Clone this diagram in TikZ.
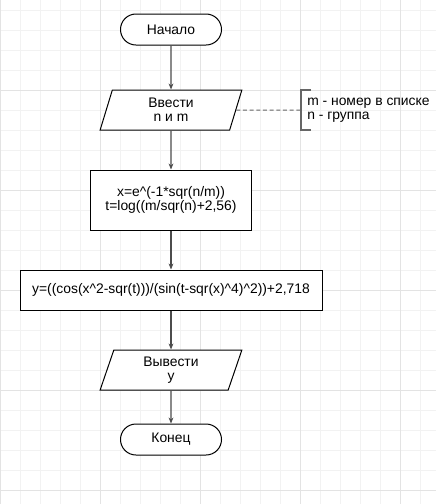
\documentclass[tikz,border=0pt]{standalone}
\usepackage{fontspec}
\setmainfont{Liberation Sans}
\usetikzlibrary{shapes.geometric,arrows.meta}

\begin{document}
\begin{tikzpicture}[x=0.75pt,y=-0.75pt,
  font=\fontsize{10.4}{10.5}\selectfont,
  >={Stealth[length=4.5pt,width=3.6pt]},
  term/.style={draw, fill=white, line width=0.75pt, rounded corners=11.6pt, minimum width=75.75pt, minimum height=23.25pt},
  io/.style={trapezium, trapezium left angle=62.6, trapezium right angle=117.4, trapezium stretches body, draw, fill=white, line width=0.75pt, minimum width=106.3pt, minimum height=30pt, inner sep=0pt, align=center},
  proc/.style={draw, fill=white, line width=0.75pt, align=center},
  flow/.style={->, black!70, line width=0.9pt},
  minor/.style={black!5, line width=0.75pt},
  major/.style={black!11, line width=0.75pt}]
\useasboundingbox (0,0) rectangle (436,504);
\foreach \x in {0,20,...,420} \draw[minor] (\x,0) -- (\x,504);
\foreach \y in {10,30,...,490} \draw[minor] (0,\y) -- (436,\y);
\foreach \x in {0,100,...,400} \draw[major] (\x,0) -- (\x,504);
\foreach \y in {90,190,...,490} \draw[major] (0,\y) -- (436,\y);
\node[term] (start) at (171,29.5) {Начало};
\node[io] (input) at (171,110) {Ввести\\n и m};
\node[proc, minimum width=120.75pt, minimum height=45pt] (calc) at (171,200) {x=e\textasciicircum(-1*sqr(n/m))\\t=log((m/sqr(n)+2,56)};
\node[proc, minimum width=226.5pt, minimum height=30pt] (formula) at (171,290) {y=((cos(x\textasciicircum2-sqr(t)))/(sin(t-sqr(x)\textasciicircum4)\textasciicircum2))+2,718};
\node[io] (output) at (171,370) {Вывести\\y};
\node[term] (stop) at (171,439.5) {Конец};
\node[anchor=west, minimum height=30pt, inner xsep=4.5pt, align=left] (note) at (301,110) {m - номер в списке\\n - группа};
\draw[flow] (start) -- (input);
\draw[flow] (input) -- (calc);
\draw[flow] (calc) -- (formula);
\draw[flow] (formula) -- (output);
\draw[flow] (output) -- (stop);
\draw[black!60, line width=0.75pt, dash pattern=on 3pt off 2pt] (input.east) -- (note.west);
\draw[black!60, line width=1.5pt] ([xshift=7.5pt]note.north west) -- (note.north west) -- (note.south west) -- ([xshift=7.5pt]note.south west);
\end{tikzpicture}
\end{document}
